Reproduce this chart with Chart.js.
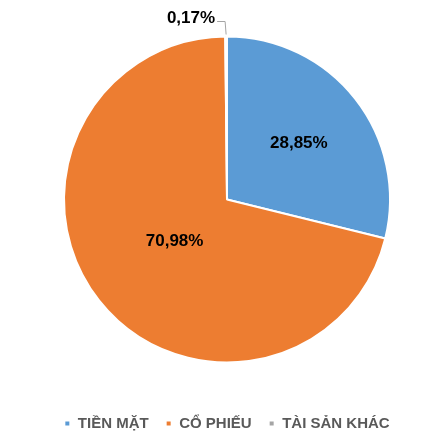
<!DOCTYPE html>
<html>
<head>
<meta charset="utf-8">
<script src="https://cdn.jsdelivr.net/npm/chart.js@4"></script>
<style>
    html, body { margin: 0; padding: 0; background: #fff; }
    #wrap { width: 432px; height: 435px; }
</style>
</head>
<body>
<div id="wrap"><canvas id="pieChart"></canvas></div>
<script>
    // data
    var categories = ['TIỀN MẶT', 'CỔ PHIẾU', 'TÀI SẢN KHÁC'];
    var shares = [28.85, 70.98, 0.17];
    var shareLabels = ['28,85%', '70,98%', '0,17%'];
    var sliceColors = ['#5B9BD5', '#ED7D31', '#A5A5A5'];

    // labels inside slices, plus the small one outside with a leader line
    var sliceLabelPlugin = {
        id: 'sliceLabels',
        afterDatasetsDraw: function(chart) {
            var ctx = chart.ctx;
            var arcs = chart.getDatasetMeta(0).data;
            var factors = [0.56, 0.41];
            ctx.save();
            ctx.font = 'bold 17px "Liberation Sans", Arial, sans-serif';
            ctx.fillStyle = '#000';
            ctx.textAlign = 'center';
            ctx.textBaseline = 'middle';
            for (var i = 0; i < 2; i++) {
                var a = arcs[i];
                var mid = (a.startAngle + a.endAngle) / 2;
                var r = a.outerRadius * factors[i];
                ctx.fillText(shareLabels[i], a.x + Math.cos(mid) * r, a.y + Math.sin(mid) * r);
            }
            // small slice
            var s = arcs[2];
            var m = (s.startAngle + s.endAngle) / 2;
            var ex = s.x + Math.cos(m) * (s.outerRadius + 2);
            var ey = s.y + Math.sin(m) * (s.outerRadius + 2);
            ctx.strokeStyle = '#A5A5A5';
            ctx.lineWidth = 1;
            ctx.beginPath();
            ctx.moveTo(ex, ey);
            ctx.lineTo(ex - 1, ey - 13);
            ctx.lineTo(ex - 9, ey - 13);
            ctx.stroke();
            ctx.textAlign = 'right';
            ctx.fillText(shareLabels[2], ex - 11, ey - 16);
            ctx.restore();
        }
    };

    var ctxPie = document.getElementById('pieChart').getContext('2d');
    var pieChart = new Chart(ctxPie, {
        type: 'pie',
        data: {
            labels: categories,
            datasets: [{
                data: shares,
                backgroundColor: sliceColors,
                borderColor: '#ffffff',
                borderWidth: 2
            }]
        },
        options: {
            responsive: true,
            maintainAspectRatio: false,
            animation: false,
            radius: 163,
            layout: { padding: { top: -10, left: 22, right: 0, bottom: -6 } },
            plugins: {
                tooltip: { enabled: false },
                legend: {
                    position: 'bottom',
                    labels: {
                        usePointStyle: true,
                        pointStyle: 'rect',
                        boxWidth: 6,
                        boxHeight: 6,
                        padding: 17,
                        color: '#595959',
                        font: { family: '"Liberation Sans", Arial, sans-serif', size: 15, weight: 'bold' }
                    }
                }
            }
        },
        plugins: [sliceLabelPlugin]
    });
</script>
</body>
</html>
